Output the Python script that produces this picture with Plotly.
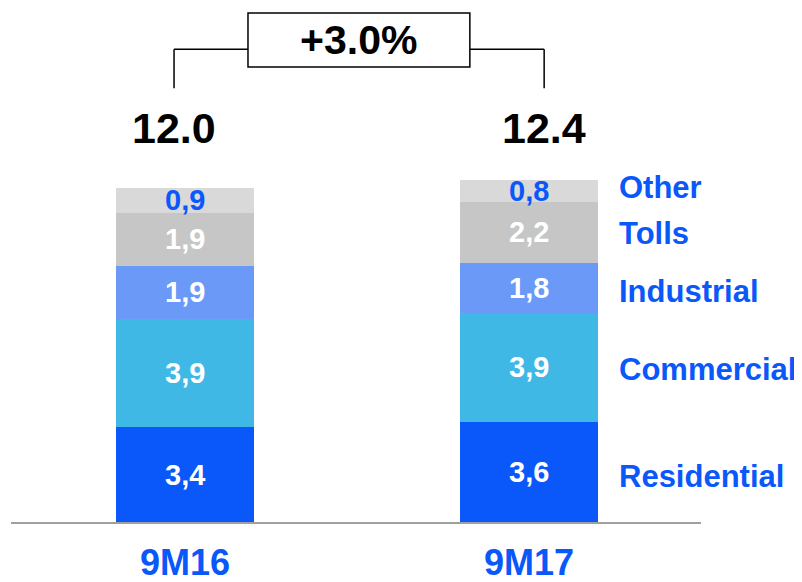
# plot.py
# Stacked bar chart: volume by segment, 9M16 vs 9M17.

import plotly.graph_objects as go

# Data
periods = ["9M16", "9M17"]
segments = ["Residential", "Commercial", "Industrial", "Tolls", "Other"]
residential = [3.4, 3.6]
commercial = [3.9, 3.9]
industrial = [1.9, 1.8]
tolls = [1.9, 2.2]
other = [0.9, 0.8]
totals = ["12.0", "12.4"]
growth_label = "+3.0%"

colors = ["#0A57FA", "#40B8E6", "#6A99F8", "#C6C6C6", "#D9D9D9"]
label_colors = ["white", "white", "white", "white", "#0A57FA"]
BLUE = "#0A57FA"
FONT = "Liberation Sans, Arial, sans-serif"

series = [residential, commercial, industrial, tolls, other]
xs = [0, 1]

fig = go.Figure()

# 1. Stacked bars
for name, vals, col in zip(segments, series, colors):
    fig.add_trace(go.Bar(
        x=xs, y=vals, name=name,
        marker=dict(color=col, line=dict(width=0)),
        width=0.401, textposition="none", hoverinfo="skip"
    ))

annotations = []

# 2. Segment value labels (centred in each segment) and right-hand labels
name_shift = [-5, -2, -3, -1, 3]
base = [0.0, 0.0]
for i, (name, vals) in enumerate(zip(segments, series)):
    for j, v in enumerate(vals):
        annotations.append(dict(
            x=xs[j], y=base[j] + v / 2, xref="x", yref="y",
            text=f"<b>{v:.1f}</b>".replace(".", ","), showarrow=False,
            font=dict(family=FONT, size=29, color=label_colors[i]),
            xanchor="center", yanchor="middle"
        ))
    # series name next to the second bar
    annotations.append(dict(
        x=1.256, y=base[1] + vals[1] / 2, xref="x", yref="y",
        text=f"<b>{name}</b>", showarrow=False,
        font=dict(family=FONT, size=31, color=BLUE),
        xanchor="left", yanchor="middle", yshift=name_shift[i]
    ))
    base = [base[k] + vals[k] for k in range(2)]

# 3. Totals above the bars
total_x = [-0.032, 1.044]
for tx, t in zip(total_x, totals):
    annotations.append(dict(
        x=tx, y=14.15, xref="x", yref="y", text=f"<b>{t}</b>",
        showarrow=False, font=dict(family=FONT, size=43, color="black"),
        xanchor="center", yanchor="middle"
    ))

# 4. Category labels under the axis
for x, p in zip(xs, periods):
    annotations.append(dict(
        x=x, y=0, xref="x", yref="paper", text=f"<b>{p}</b>",
        showarrow=False, font=dict(family=FONT, size=36, color=BLUE),
        xanchor="center", yanchor="middle", yshift=-40
    ))

# 5. Growth bracket and box
annotations.append(dict(
    x=0.5055, y=17.31, xref="x", yref="y", text=f"<b>{growth_label}</b>",
    showarrow=False, font=dict(family=FONT, size=41, color="black"),
    xanchor="center", yanchor="middle"
))

line_style = dict(color="black", width=1.5)
shapes = [
    dict(type="line", xref="x", yref="y", x0=total_x[0], x1=total_x[0],
         y0=15.58, y1=16.98, line=line_style),
    dict(type="line", xref="x", yref="y", x0=total_x[0], x1=0.183,
         y0=16.98, y1=16.98, line=line_style),
    dict(type="line", xref="x", yref="y", x0=0.828, x1=total_x[1],
         y0=16.98, y1=16.98, line=line_style),
    dict(type="line", xref="x", yref="y", x0=total_x[1], x1=total_x[1],
         y0=15.58, y1=16.98, line=line_style),
    dict(type="rect", xref="x", yref="y", x0=0.183, x1=0.828,
         y0=16.34, y1=18.28, line=line_style, fillcolor="white"),
]

fig.update_layout(
    barmode="stack",
    width=794, height=574,
    margin=dict(l=3, r=101, t=0, b=60),
    paper_bgcolor="white", plot_bgcolor="white",
    showlegend=False,
    annotations=annotations,
    shapes=shapes,
    xaxis=dict(range=[-0.506, 1.5], showticklabels=False, showgrid=False,
               zeroline=False, showline=True, linecolor="#A0A0A0",
               linewidth=1.5, fixedrange=True),
    yaxis=dict(range=[0, 18.46], visible=False, showgrid=False,
               fixedrange=True),
)

fig.write_html("out.html", config={"displayModeBar": False})
